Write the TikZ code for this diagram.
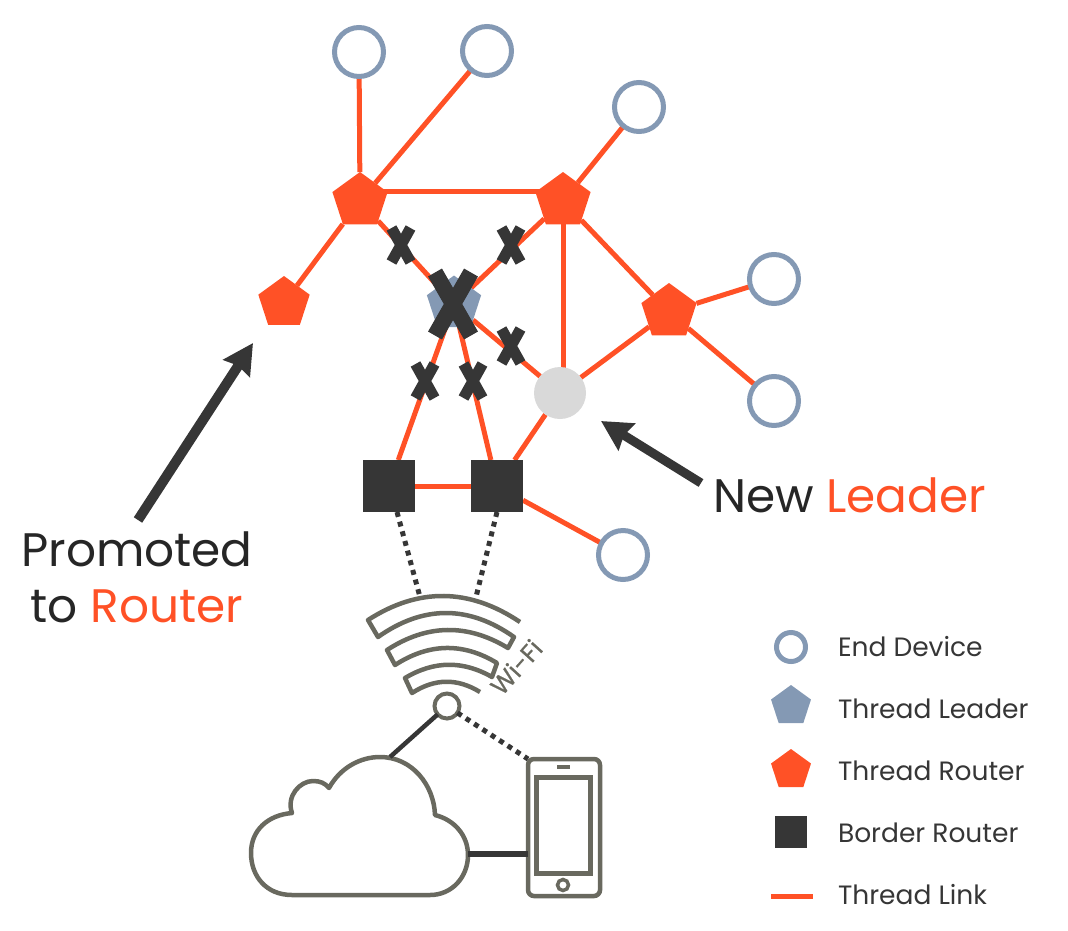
\documentclass[tikz,border=0pt]{standalone}
\usepackage{fontspec}
\setmainfont{Poppins}
\usetikzlibrary{arrows.meta,shapes.geometric,backgrounds}

\definecolor{threadorange}{HTML}{FF5126}
\definecolor{threadblue}{HTML}{8499B4}
\definecolor{threaddark}{HTML}{363636}
\definecolor{newgray}{HTML}{D9D9D9}
\definecolor{sketchgray}{HTML}{69695F}

\begin{document}
\begin{tikzpicture}[
        x=1pt, y=-1pt,
        every node/.style={inner sep=0pt, outer sep=0pt},
        enddevice/.style={circle, draw=threadblue, fill=white, line width=5pt, minimum size=49pt},
        router/.style={regular polygon, regular polygon sides=5, fill=threadorange, minimum size=58pt},
        leader/.style={regular polygon, regular polygon sides=5, fill=threadblue, minimum size=57pt},
        border/.style={rectangle, fill=threaddark, minimum size=52pt},
        link/.style={draw=threadorange, line width=5pt},
        dots/.style={draw=threaddark, line width=5pt, dash pattern=on 5pt off 5pt},
        wire/.style={draw=threaddark, line width=5pt},
        sketch/.style={draw=sketchgray, line width=4.5pt, line join=round},
        pointer/.style={draw=threaddark, -{Stealth[length=30pt, width=31pt, inset=3pt]}},
        bigtext/.style={font=\fontsize{47}{56}\selectfont, text=black!85, align=center},
        legendtext/.style={font=\fontsize{26.5}{30}\selectfont, text=threaddark, anchor=west},
        smallx/.pic={
            \draw[draw=threaddark, line width=11pt] (-9.5,-17) -- (9.5,17) (9.5,-17) -- (-9.5,17);
        },
        bigx/.pic={
            \draw[draw=threaddark, line width=16pt] (-18,-31.5) -- (18,31.5) (18,-31.5) -- (-18,31.5);
        }
    ]
    \useasboundingbox (0,0) rectangle (1068,930);

    % Nodes
    \node[enddevice] (deviceA) at (359,52) {};
    \node[enddevice] (deviceB) at (487,51) {};
    \node[enddevice] (deviceC) at (639,107) {};
    \node[enddevice] (deviceD) at (774,279) {};
    \node[enddevice] (deviceE) at (774,401) {};
    \node[enddevice] (deviceF) at (623,555) {};

    \node[router] (routerA) at (360,201) {};
    \node[router] (routerB) at (563,201) {};
    \node[router] (routerC) at (669,312) {};
    \node[router, minimum size=54pt] (promotedRouter) at (284,303) {};
    \node[leader] (oldLeader) at (454,304) {};
    \node[circle, fill=newgray, minimum size=52pt] (newLeader) at (560,393) {};

    \node[border] (borderA) at (389,486) {};
    \node[border] (borderB) at (497,486) {};

    % Links
    \begin{scope}[on background layer]
    \draw[link] (routerA) -- (deviceA);
    \draw[link] (routerA) -- (deviceB);
    \draw[link] ([yshift=10pt]routerA.center) -- ([yshift=10pt]routerB.center);
    \draw[link] (routerA) -- (promotedRouter);
    \draw[link] (routerA) -- (oldLeader);
    \draw[link] (routerB) -- (oldLeader);
    \draw[link] (routerB) -- (deviceC);
    \draw[link] (routerB) -- (routerC);
    \draw[link] (routerB) -- (routerB |- newLeader);
    \draw[link] (routerC) -- (deviceD);
    \draw[link] (routerC) -- (deviceE);
    \draw[link] (routerC) -- (newLeader);
    \draw[link] (oldLeader) -- (newLeader);
    \draw[link] (oldLeader) -- (borderA);
    \draw[link] (oldLeader) -- (borderB);
    \draw[link] (newLeader) -- (borderB);
    \draw[link] (borderA) -- (borderB);
    \draw[link] (borderB) -- (deviceF);
    \end{scope}

    % Broken links
    \pic at (401,245) {smallx};
    \pic at (511,245) {smallx};
    \pic at (511,346) {smallx};
    \pic at (425,381) {smallx};
    \pic at (473,381) {smallx};
    \pic at (453,304) {bigx};

    % Callouts
    \node[bigtext] (promotedText) at (137,577) {Promoted\\to \textcolor{threadorange}{Router}};
    \node[bigtext, anchor=west] (newLeaderText) at (713,495) {New \textcolor{threadorange}{Leader}};
    \coordinate (promotedTail) at (138,520);
    \coordinate (promotedTip) at (253,343);
    \coordinate (newLeaderTail) at (701,483);
    \coordinate (newLeaderTip) at (601,421);
    \draw[pointer, line width=10pt] (promotedTail) -- (promotedTip);
    \draw[pointer, line width=9pt] (newLeaderTail) -- (newLeaderTip);

    % Wi-Fi
    \draw[sketch] (520,622) .. controls (469.3,588) and (418.7,587.3) .. (368,620) -- (378,637)
        .. controls (423.3,605) and (468.7,605) .. (514,637) -- (508,648)
        .. controls (467.3,623.3) and (427,624) .. (387,650) -- (395,665)
        .. controls (429,643) and (463,642.3) .. (497,663) -- (492,677)
        .. controls (462.7,660.3) and (434,660.7) .. (405,678) -- (412,693)
        .. controls (434.7,678.3) and (457.3,678) .. (480,692);
    \node[circle, draw=sketchgray, line width=4pt, minimum size=25pt] (hub) at (447,706) {};
    \node[rotate=48, text=sketchgray, font=\fontsize{25}{25}\selectfont\addfontfeature{FakeBold=0.6}] (wifiText) at (516,667) {Wi-Fi};
    \coordinate (wifiLeft) at (420,597);
    \coordinate (wifiRight) at (476,597);
    \draw[dots] (borderA.south) ++(8,0) -- (wifiLeft);
    \draw[dots] (borderB.south) -- (wifiRight);

    % Cloud
    \coordinate (cloudTop) at (390,757);
    \coordinate (cloudRight) at (468,854);
    \draw[sketch] (292,895) .. controls (266,895) and (251,876) .. (251,853)
        .. controls (251,830) and (268,815) .. (292,813)
        .. controls (286,796) and (300,781) .. (313,781)
        .. controls (320,781) and (325,783) .. (329,788)
        .. controls (340,768) and (360,757) .. (380,757)
        .. controls (412,757) and (434,785) .. (435,815)
        .. controls (455,820) and (468,836) .. (468,855)
        .. controls (468,877) and (452,895) .. (430,895) -- cycle;

    % Phone
    \node[rectangle, rounded corners=6pt, draw=sketchgray, line width=4.5pt, minimum width=72pt, minimum height=137pt] (phone) at (564,827.5) {};
    \node[rectangle, draw=sketchgray, line width=4.5pt, minimum width=54pt, minimum height=96pt] (phoneScreen) at (563.5,825.5) {};
    \node[rectangle, fill=sketchgray, minimum width=13pt, minimum height=4pt] (phoneSpeaker) at (563.5,767) {};
    \node[circle, draw=sketchgray, line width=3.5pt, minimum size=11pt] (phoneButton) at (563,885) {};

    \draw[wire, line width=4.5pt] (hub) -- (cloudTop);
    \draw[wire, line width=6pt] (cloudRight) -- (cloudRight -| phone.west);
    \draw[dots] (hub) -- (phone.north west);

    % Legend
    \node[circle, draw=threadblue, line width=5pt, minimum size=29pt] (legendDevice) at (791,647) {};
    \node[leader, minimum size=42pt] (legendLeader) at (791,706) {};
    \node[router, minimum size=42pt] (legendRouter) at (791,770) {};
    \node[border, minimum size=32pt] (legendBorder) at (791,832) {};
    \coordinate (legendLinkA) at (771,896);
    \coordinate (legendLinkB) at (813,896);
    \draw[link] (legendLinkA) -- (legendLinkB);
    \node[legendtext] (textDevice) at (838,647) {End Device};
    \node[legendtext] (textLeader) at (838,709) {Thread Leader};
    \node[legendtext] (textRouter) at (838,771) {Thread Router};
    \node[legendtext] (textBorder) at (838,833) {Border Router};
    \node[legendtext] (textLink) at (838,895) {Thread Link};
\end{tikzpicture}
\end{document}
